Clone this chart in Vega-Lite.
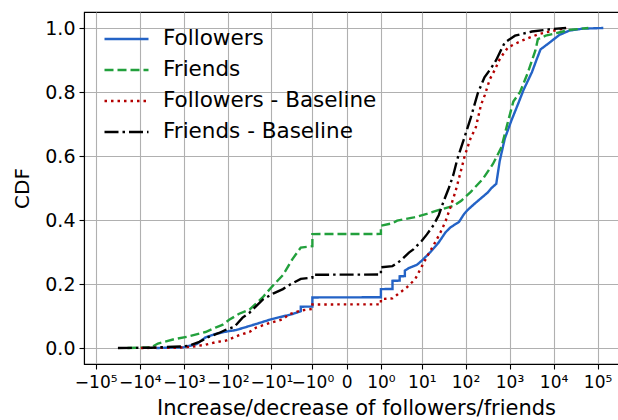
{
  "$schema": "https://vega.github.io/schema/vega-lite/v6.json",
  "autosize": "none",
  "width": 544,
  "height": 352,
  "padding": {"left": 84, "top": 12, "right": -10, "bottom": 56},
  "background": "white",
  "config": {
    "font": "DejaVu Sans",
    "view": {"stroke": "black", "strokeWidth": 1.1},
    "axis": {
      "domainColor": "black", "domainWidth": 1.1,
      "tickColor": "black", "tickWidth": 1.1, "tickSize": 5,
      "gridColor": "#b0b0b0", "gridWidth": 1.1,
      "labelColor": "black", "titleColor": "black",
      "labelFont": "DejaVu Sans", "titleFont": "DejaVu Sans",
      "titleFontWeight": "normal"
    },
    "legend": {"labelFont": "DejaVu Sans"}
  },
  "data": {"values": [
    {"s": "Followers", "x": -4240, "cdf": 0.0},
    {"s": "Followers", "x": -1020, "cdf": 0.002},
    {"s": "Followers", "x": -503, "cdf": 0.0125},
    {"s": "Followers", "x": -323, "cdf": 0.033},
    {"s": "Followers", "x": -190, "cdf": 0.044},
    {"s": "Followers", "x": -102, "cdf": 0.052},
    {"s": "Followers", "x": -65, "cdf": 0.056},
    {"s": "Followers", "x": -22.5, "cdf": 0.075},
    {"s": "Followers", "x": -10, "cdf": 0.09},
    {"s": "Followers", "x": -3.2, "cdf": 0.106},
    {"s": "Followers", "x": -2, "cdf": 0.115},
    {"s": "Followers", "x": -2, "cdf": 0.129},
    {"s": "Followers", "x": -1, "cdf": 0.1295},
    {"s": "Followers", "x": -1, "cdf": 0.158},
    {"s": "Followers", "x": 1, "cdf": 0.1585},
    {"s": "Followers", "x": 1, "cdf": 0.184},
    {"s": "Followers", "x": 2, "cdf": 0.1845},
    {"s": "Followers", "x": 2, "cdf": 0.21},
    {"s": "Followers", "x": 3, "cdf": 0.2105},
    {"s": "Followers", "x": 3, "cdf": 0.224},
    {"s": "Followers", "x": 4, "cdf": 0.2245},
    {"s": "Followers", "x": 4, "cdf": 0.242},
    {"s": "Followers", "x": 5, "cdf": 0.25},
    {"s": "Followers", "x": 7.7, "cdf": 0.26},
    {"s": "Followers", "x": 10, "cdf": 0.273},
    {"s": "Followers", "x": 15.6, "cdf": 0.299},
    {"s": "Followers", "x": 24.5, "cdf": 0.33},
    {"s": "Followers", "x": 34.8, "cdf": 0.361},
    {"s": "Followers", "x": 45.4, "cdf": 0.377},
    {"s": "Followers", "x": 71, "cdf": 0.394},
    {"s": "Followers", "x": 93, "cdf": 0.419},
    {"s": "Followers", "x": 111, "cdf": 0.431},
    {"s": "Followers", "x": 158, "cdf": 0.45},
    {"s": "Followers", "x": 225, "cdf": 0.468},
    {"s": "Followers", "x": 321, "cdf": 0.486},
    {"s": "Followers", "x": 383, "cdf": 0.499},
    {"s": "Followers", "x": 500, "cdf": 0.513},
    {"s": "Followers", "x": 600, "cdf": 0.585},
    {"s": "Followers", "x": 783, "cdf": 0.655},
    {"s": "Followers", "x": 1112, "cdf": 0.712},
    {"s": "Followers", "x": 1589, "cdf": 0.765},
    {"s": "Followers", "x": 2075, "cdf": 0.806},
    {"s": "Followers", "x": 3230, "cdf": 0.862},
    {"s": "Followers", "x": 4218, "cdf": 0.905},
    {"s": "Followers", "x": 5055, "cdf": 0.933},
    {"s": "Followers", "x": 8610, "cdf": 0.957},
    {"s": "Followers", "x": 13400, "cdf": 0.978},
    {"s": "Followers", "x": 22850, "cdf": 0.992},
    {"s": "Followers", "x": 46400, "cdf": 0.998},
    {"s": "Followers", "x": 135000, "cdf": 1.0},

    {"s": "Friends", "x": -19000, "cdf": 0.0},
    {"s": "Friends", "x": -5500, "cdf": 0.002},
    {"s": "Friends", "x": -3870, "cdf": 0.014},
    {"s": "Friends", "x": -1600, "cdf": 0.028},
    {"s": "Friends", "x": -780, "cdf": 0.036},
    {"s": "Friends", "x": -320, "cdf": 0.05},
    {"s": "Friends", "x": -190, "cdf": 0.064},
    {"s": "Friends", "x": -133, "cdf": 0.072},
    {"s": "Friends", "x": -93, "cdf": 0.088},
    {"s": "Friends", "x": -55, "cdf": 0.107},
    {"s": "Friends", "x": -32, "cdf": 0.12},
    {"s": "Friends", "x": -16, "cdf": 0.158},
    {"s": "Friends", "x": -10, "cdf": 0.19},
    {"s": "Friends", "x": -5.4, "cdf": 0.228},
    {"s": "Friends", "x": -3.2, "cdf": 0.278},
    {"s": "Friends", "x": -2, "cdf": 0.314},
    {"s": "Friends", "x": -1, "cdf": 0.318},
    {"s": "Friends", "x": -1, "cdf": 0.356},
    {"s": "Friends", "x": 1, "cdf": 0.3565},
    {"s": "Friends", "x": 1, "cdf": 0.382},
    {"s": "Friends", "x": 2, "cdf": 0.39},
    {"s": "Friends", "x": 2.6, "cdf": 0.398},
    {"s": "Friends", "x": 6.5, "cdf": 0.408},
    {"s": "Friends", "x": 13, "cdf": 0.419},
    {"s": "Friends", "x": 22, "cdf": 0.429},
    {"s": "Friends", "x": 55, "cdf": 0.445},
    {"s": "Friends", "x": 80, "cdf": 0.46},
    {"s": "Friends", "x": 132, "cdf": 0.488},
    {"s": "Friends", "x": 246, "cdf": 0.528},
    {"s": "Friends", "x": 420, "cdf": 0.575},
    {"s": "Friends", "x": 653, "cdf": 0.627},
    {"s": "Friends", "x": 933, "cdf": 0.71},
    {"s": "Friends", "x": 1220, "cdf": 0.77},
    {"s": "Friends", "x": 1740, "cdf": 0.80},
    {"s": "Friends", "x": 2600, "cdf": 0.86},
    {"s": "Friends", "x": 3870, "cdf": 0.93},
    {"s": "Friends", "x": 4400, "cdf": 0.965},
    {"s": "Friends", "x": 6600, "cdf": 0.976},
    {"s": "Friends", "x": 13400, "cdf": 0.986},
    {"s": "Friends", "x": 22850, "cdf": 0.994},
    {"s": "Friends", "x": 61600, "cdf": 1.0},

    {"s": "Followers - Baseline", "x": -9380, "cdf": 0.0},
    {"s": "Followers - Baseline", "x": -1334, "cdf": 0.001},
    {"s": "Followers - Baseline", "x": -656, "cdf": 0.004},
    {"s": "Followers - Baseline", "x": -323, "cdf": 0.01},
    {"s": "Followers - Baseline", "x": -190, "cdf": 0.018},
    {"s": "Followers - Baseline", "x": -111, "cdf": 0.023},
    {"s": "Followers - Baseline", "x": -55, "cdf": 0.04},
    {"s": "Followers - Baseline", "x": -32, "cdf": 0.05},
    {"s": "Followers - Baseline", "x": -22.5, "cdf": 0.064},
    {"s": "Followers - Baseline", "x": -11, "cdf": 0.078},
    {"s": "Followers - Baseline", "x": -5.4, "cdf": 0.09},
    {"s": "Followers - Baseline", "x": -3.8, "cdf": 0.106},
    {"s": "Followers - Baseline", "x": -2, "cdf": 0.117},
    {"s": "Followers - Baseline", "x": -1, "cdf": 0.122},
    {"s": "Followers - Baseline", "x": -1, "cdf": 0.136},
    {"s": "Followers - Baseline", "x": 1, "cdf": 0.1365},
    {"s": "Followers - Baseline", "x": 1, "cdf": 0.153},
    {"s": "Followers - Baseline", "x": 2, "cdf": 0.155},
    {"s": "Followers - Baseline", "x": 2.65, "cdf": 0.167},
    {"s": "Followers - Baseline", "x": 4.5, "cdf": 0.19},
    {"s": "Followers - Baseline", "x": 7, "cdf": 0.215},
    {"s": "Followers - Baseline", "x": 10, "cdf": 0.255},
    {"s": "Followers - Baseline", "x": 13.1, "cdf": 0.285},
    {"s": "Followers - Baseline", "x": 18.8, "cdf": 0.322},
    {"s": "Followers - Baseline", "x": 26.6, "cdf": 0.36},
    {"s": "Followers - Baseline", "x": 34.8, "cdf": 0.395},
    {"s": "Followers - Baseline", "x": 45.4, "cdf": 0.44},
    {"s": "Followers - Baseline", "x": 59.3, "cdf": 0.49},
    {"s": "Followers - Baseline", "x": 77.4, "cdf": 0.55},
    {"s": "Followers - Baseline", "x": 95.8, "cdf": 0.60},
    {"s": "Followers - Baseline", "x": 130, "cdf": 0.655},
    {"s": "Followers - Baseline", "x": 172, "cdf": 0.69},
    {"s": "Followers - Baseline", "x": 225, "cdf": 0.76},
    {"s": "Followers - Baseline", "x": 274, "cdf": 0.79},
    {"s": "Followers - Baseline", "x": 357, "cdf": 0.84},
    {"s": "Followers - Baseline", "x": 467, "cdf": 0.87},
    {"s": "Followers - Baseline", "x": 610, "cdf": 0.905},
    {"s": "Followers - Baseline", "x": 933, "cdf": 0.94},
    {"s": "Followers - Baseline", "x": 1866, "cdf": 0.96},
    {"s": "Followers - Baseline", "x": 4610, "cdf": 0.981},
    {"s": "Followers - Baseline", "x": 8750, "cdf": 0.99},
    {"s": "Followers - Baseline", "x": 19450, "cdf": 1.0},

    {"s": "Friends - Baseline", "x": -31300, "cdf": 0.0},
    {"s": "Friends - Baseline", "x": -5530, "cdf": 0.001},
    {"s": "Friends - Baseline", "x": -1120, "cdf": 0.005},
    {"s": "Friends - Baseline", "x": -783, "cdf": 0.007},
    {"s": "Friends - Baseline", "x": -459, "cdf": 0.018},
    {"s": "Friends - Baseline", "x": -270, "cdf": 0.035},
    {"s": "Friends - Baseline", "x": -158, "cdf": 0.047},
    {"s": "Friends - Baseline", "x": -111, "cdf": 0.057},
    {"s": "Friends - Baseline", "x": -71, "cdf": 0.066},
    {"s": "Friends - Baseline", "x": -46, "cdf": 0.095},
    {"s": "Friends - Baseline", "x": -32, "cdf": 0.11},
    {"s": "Friends - Baseline", "x": -15.7, "cdf": 0.152},
    {"s": "Friends - Baseline", "x": -9.2, "cdf": 0.17},
    {"s": "Friends - Baseline", "x": -5.4, "cdf": 0.184},
    {"s": "Friends - Baseline", "x": -3.8, "cdf": 0.197},
    {"s": "Friends - Baseline", "x": -2.9, "cdf": 0.205},
    {"s": "Friends - Baseline", "x": -2, "cdf": 0.216},
    {"s": "Friends - Baseline", "x": -1, "cdf": 0.22},
    {"s": "Friends - Baseline", "x": -1, "cdf": 0.229},
    {"s": "Friends - Baseline", "x": 1, "cdf": 0.2295},
    {"s": "Friends - Baseline", "x": 1, "cdf": 0.252},
    {"s": "Friends - Baseline", "x": 2, "cdf": 0.256},
    {"s": "Friends - Baseline", "x": 2.65, "cdf": 0.266},
    {"s": "Friends - Baseline", "x": 3.16, "cdf": 0.273},
    {"s": "Friends - Baseline", "x": 5, "cdf": 0.298},
    {"s": "Friends - Baseline", "x": 6.45, "cdf": 0.309},
    {"s": "Friends - Baseline", "x": 10, "cdf": 0.335},
    {"s": "Friends - Baseline", "x": 13.1, "cdf": 0.355},
    {"s": "Friends - Baseline", "x": 18.8, "cdf": 0.385},
    {"s": "Friends - Baseline", "x": 24.5, "cdf": 0.415},
    {"s": "Friends - Baseline", "x": 32, "cdf": 0.46},
    {"s": "Friends - Baseline", "x": 41.7, "cdf": 0.50},
    {"s": "Friends - Baseline", "x": 52.5, "cdf": 0.54},
    {"s": "Friends - Baseline", "x": 65, "cdf": 0.59},
    {"s": "Friends - Baseline", "x": 93, "cdf": 0.655},
    {"s": "Friends - Baseline", "x": 132, "cdf": 0.72},
    {"s": "Friends - Baseline", "x": 189, "cdf": 0.795},
    {"s": "Friends - Baseline", "x": 270, "cdf": 0.846},
    {"s": "Friends - Baseline", "x": 383, "cdf": 0.875},
    {"s": "Friends - Baseline", "x": 500, "cdf": 0.90},
    {"s": "Friends - Baseline", "x": 610, "cdf": 0.925},
    {"s": "Friends - Baseline", "x": 783, "cdf": 0.955},
    {"s": "Friends - Baseline", "x": 1334, "cdf": 0.976},
    {"s": "Friends - Baseline", "x": 3230, "cdf": 0.989},
    {"s": "Friends - Baseline", "x": 9380, "cdf": 0.997},
    {"s": "Friends - Baseline", "x": 19200, "cdf": 1.0}
  ]},
  "mark": {"type": "line", "strokeWidth": 2.4, "clip": true},
  "encoding": {
    "x": {
      "field": "x", "type": "quantitative",
      "scale": {"type": "symlog", "constant": 0.2, "domain": [-184500, 490900], "nice": false, "zero": false},
      "axis": {
        "title": "Increase/decrease of followers/friends",
        "titleFontSize": 21, "titlePadding": 7,
        "values": [-100000, -10000, -1000, -100, -10, -1, 0, 1, 10, 100, 1000, 10000, 100000],
        "labelExpr": "datum.value == 0 ? '0' : (datum.value < 0 ? '\u2212' : '') + '10' + ['\u2070','\u00b9','\u00b2','\u00b3','\u2074','\u2075'][round(log(abs(datum.value))/LN10)]",
        "labelFontSize": 17, "labelPadding": 5,
        "labelOverlap": false, "labelFlush": false, "labelBound": false,
        "grid": true
      }
    },
    "y": {
      "field": "cdf", "type": "quantitative",
      "scale": {"domain": [-0.05, 1.05], "nice": false, "zero": false},
      "axis": {
        "title": "CDF", "titleFontSize": 20, "titlePadding": 12,
        "values": [0, 0.2, 0.4, 0.6, 0.8, 1.0], "format": ".1f",
        "labelFontSize": 19, "labelPadding": 4, "grid": true
      }
    },
    "color": {
      "field": "s", "type": "nominal",
      "scale": {
        "domain": ["Followers", "Friends", "Followers - Baseline", "Friends - Baseline"],
        "range": ["#2463c6", "#22a03c", "#b40000", "#000000"]
      },
      "legend": {
        "title": null, "orient": "none", "legendX": 30, "legendY": 14.5,
        "symbolType": "M-2,0H2", "symbolSize": 484, "symbolStrokeWidth": 2.4,
        "labelFontSize": 21.5, "labelOffset": 24, "rowPadding": 8, "padding": 0,
        "labelColor": "black", "labelLimit": 400
      }
    },
    "strokeDash": {
      "field": "s", "type": "nominal",
      "scale": {
        "domain": ["Followers", "Friends", "Followers - Baseline", "Friends - Baseline"],
        "range": [[1, 0], [9, 4], [2.5, 4], [14, 4, 2.5, 4]]
      },
      "legend": null
    },
    "order": [{"field": "x"}, {"field": "cdf"}]
  }
}
